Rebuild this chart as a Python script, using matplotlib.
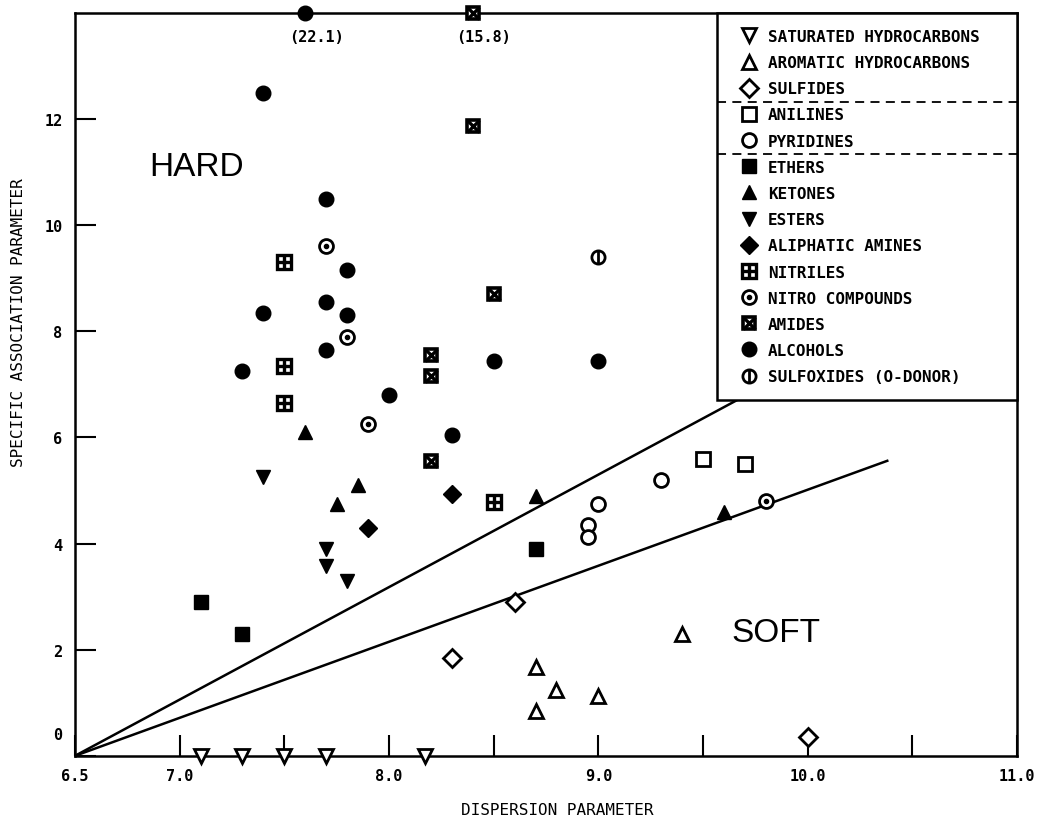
import numpy as np
import matplotlib
matplotlib.use('Agg')
import matplotlib.pyplot as plt

plt.rcParams['font.family'] = 'DejaVu Sans Mono'
plt.rcParams['font.weight'] = 'bold'

# values above YMAX are drawn on the top edge and labelled with their value
YMAX = 14

sat_hc_x = [7.1, 7.3, 7.5, 7.7, 8.17]
sat_hc_y = [0, 0, 0, 0, 0]
arom_hc_x = [9.4, 8.7, 8.8, 9.0, 8.7]
arom_hc_y = [2.3, 1.68, 1.25, 1.13, 0.85]
sulfide_x = [8.6, 8.3, 10.0]
sulfide_y = [2.9, 1.85, 0.35]
aniline_x = [9.5, 9.7]
aniline_y = [5.6, 5.5]
pyridine_x = [9.3, 9.0, 8.95, 8.95]
pyridine_y = [5.2, 4.75, 4.35, 4.12]
ether_x = [7.1, 7.3, 8.7]
ether_y = [2.9, 2.3, 3.9]
ketone_x = [7.6, 7.85, 7.75, 8.7, 9.6]
ketone_y = [6.1, 5.1, 4.75, 4.9, 4.6]
ester_x = [7.4, 7.7, 7.7, 7.8]
ester_y = [5.25, 3.9, 3.57, 3.3]
amine_x = [8.3, 7.9]
amine_y = [4.93, 4.3]
nitrile_x = [7.5, 7.5, 7.5, 8.5]
nitrile_y = [9.3, 7.35, 6.65, 4.78]
nitro_x = [7.7, 7.8, 7.9, 9.8]
nitro_y = [9.6, 7.9, 6.25, 4.8]
amide_x = [8.4, 8.4, 8.5, 8.2, 8.2, 8.2]
amide_y = [15.8, 11.87, 8.7, 7.55, 7.15, 5.55]
alcohol_x = [7.6, 7.4, 7.7, 7.8, 7.7, 7.4, 7.8, 7.7, 7.3, 8.5, 9.0, 8.0, 8.3]
alcohol_y = [22.1, 12.5, 10.5, 9.15, 8.55, 8.35, 8.3, 7.65, 7.25, 7.45, 7.45, 6.8, 6.05]
sulfoxide_x = [9.0]
sulfoxide_y = [9.4]

# hard / soft dividing lines, both start at the origin
upper_x = [6.5, 9.67]
upper_y = [0, 6.72]
lower_x = [6.5, 10.38]
lower_y = [0, 5.56]

xticks = [6.5, 7.0, 7.5, 8.0, 8.5, 9.0, 9.5, 10.0, 10.5, 11.0]
xticklabels = ['6.5', '7.0', '', '8.0', '', '9.0', '', '10.0', '', '11.0']
yticks = [0, 2, 4, 6, 8, 10, 12]

fig = plt.figure(figsize=(10.41, 8.20), dpi=100)
ax = fig.add_axes([0.072, 0.077, 0.905, 0.906])


def plot_group(x, y, layers):
    '''
    Plot one class of compounds, possibly as several stacked marker layers.
    '''
    yy = np.minimum(y, YMAX)
    hs = []
    for marker, ms, mfc, mew in layers:
        h, = ax.plot(x, yy, ls='none', marker=marker, ms=ms, mfc=mfc,
                     mec='black', mew=mew, clip_on=False, zorder=4)
        hs.append(h)
    for xi, yi in zip(x, y):
        if yi > YMAX:
            ax.annotate(f'({yi:.1f})', xy=(xi, YMAX), xytext=(8, -17),
                        textcoords='offset points', ha='center', va='center',
                        fontsize=11)
    return tuple(hs) if len(hs) > 1 else hs[0]


groups = [
    (sat_hc_x, sat_hc_y, [('v', 10, 'white', 2.0)], 'SATURATED HYDROCARBONS'),
    (arom_hc_x, arom_hc_y, [('^', 9.5, 'white', 2.0)], 'AROMATIC HYDROCARBONS'),
    (sulfide_x, sulfide_y, [('D', 9, 'white', 2.0)], 'SULFIDES'),
    (aniline_x, aniline_y, [('s', 9.5, 'white', 2.0)], 'ANILINES'),
    (pyridine_x, pyridine_y, [('o', 10, 'white', 2.0)], 'PYRIDINES'),
    (ether_x, ether_y, [('s', 9.5, 'black', 1.0)], 'ETHERS'),
    (ketone_x, ketone_y, [('^', 10.5, 'black', 1.0)], 'KETONES'),
    (ester_x, ester_y, [('v', 10.5, 'black', 1.0)], 'ESTERS'),
    (amine_x, amine_y, [('D', 9.5, 'black', 1.0)], 'ALIPHATIC AMINES'),
    (nitrile_x, nitrile_y, [('s', 9.5, 'white', 2.4), ('+', 9.5, 'white', 2.4)], 'NITRILES'),
    (nitro_x, nitro_y, [('o', 10, 'white', 2.0), ('o', 3, 'black', 1.0)], 'NITRO COMPOUNDS'),
    (amide_x, amide_y, [('s', 9, 'white', 2.6), ('x', 9, 'white', 2.4)], 'AMIDES'),
    (alcohol_x, alcohol_y, [('o', 10.5, 'black', 1.0)], 'ALCOHOLS'),
    (sulfoxide_x, sulfoxide_y, [('o', 9.5, 'white', 2.0), ('|', 9.5, 'white', 2.0)], 'SULFOXIDES (O-DONOR)'),
]

handles = []
labels = []
for gx, gy, layers, name in groups:
    handles.append(plot_group(gx, gy, layers))
    labels.append(name)

ax.plot(upper_x, upper_y, color='black', lw=1.8, zorder=3)
ax.plot(lower_x, lower_y, color='black', lw=1.8, zorder=3)

ax.text(7.08, 11.1, 'HARD', fontfamily='Liberation Sans', fontweight='normal',
        fontsize=24, ha='center', va='center')
ax.text(9.85, 2.33, 'SOFT', fontfamily='Liberation Sans', fontweight='normal',
        fontsize=24, ha='center', va='center')

ax.set_xlim(6.5, 11.0)
ax.set_ylim(0, YMAX)
ax.set_xticks(xticks)
ax.set_xticklabels(xticklabels)
ax.set_yticks(yticks)
ax.set_yticklabels([''] + [str(v) for v in yticks[1:]])
ax.annotate('0', xy=(0, 0.4), xycoords=('axes fraction', 'data'), xytext=(-9, 0),
            textcoords='offset points', ha='right', va='center', fontsize=11)
ax.tick_params(direction='in', length=15, width=1.5, labelsize=11, top=False, right=False)
ax.tick_params(axis='x', pad=9)
ax.tick_params(axis='y', pad=9)
for s in ax.spines.values():
    s.set_linewidth(1.8)

ax.set_xlabel('DISPERSION PARAMETER', fontsize=11.5)
ax.xaxis.set_label_coords(0.512, -0.062)
ax.set_ylabel('SPECIFIC ASSOCIATION PARAMETER', fontsize=11.5)
ax.yaxis.set_label_coords(-0.052, 0.585)

leg = ax.legend(handles, labels, loc='upper left', bbox_to_anchor=(0.6815, 0, 0.3185, 1.0),
                mode='expand', borderaxespad=0, borderpad=1.0, labelspacing=0.7,
                handlelength=2.0, handletextpad=0.2, fancybox=False, framealpha=1,
                edgecolor='black', prop=dict(family='DejaVu Sans Mono', weight='bold', size=11.5))
leg.get_frame().set_linewidth(1.8)

# dashed separators between the groups of the legend
fig.canvas.draw()
inv = ax.transAxes.inverted()
texts = leg.get_texts()
lbox = leg.get_window_extent()
x0 = inv.transform((lbox.x0, 0))[0]
for i in (2, 4):
    a = texts[i].get_window_extent()
    b = texts[i + 1].get_window_extent()
    ymid = inv.transform((0, (a.y0 + a.y1 + b.y0 + b.y1) / 4))[1]
    ax.plot([x0, 1.0], [ymid, ymid], transform=ax.transAxes, color='black', lw=1.3,
            ls=(0, (5, 3.5)), clip_on=False, zorder=6)

fig.savefig('out.png')
